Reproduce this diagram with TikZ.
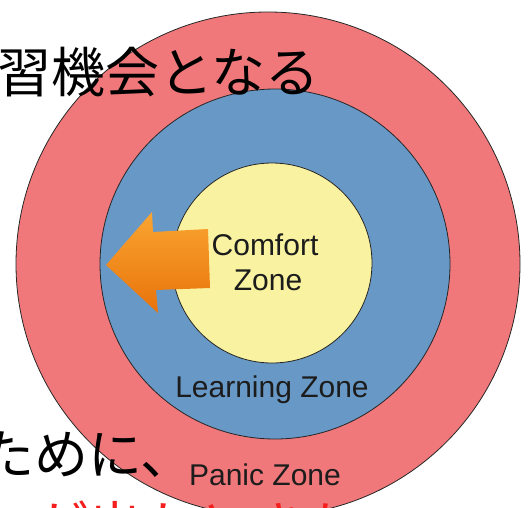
\documentclass[tikz,border=0pt]{standalone}
\usepackage{fontspec}
\setsansfont{Liberation Sans}
\newfontfamily\jp{Noto Sans CJK JP}
\definecolor{panicred}{RGB}{240,120,122}
\definecolor{learnblue}{RGB}{104,152,198}
\definecolor{comfortyel}{RGB}{249,242,160}
\definecolor{arrowlight}{RGB}{250,165,50}
\definecolor{arrowdark}{RGB}{232,115,10}
\definecolor{labeltext}{RGB}{28,28,28}
\definecolor{jpred}{RGB}{245,30,30}
\begin{document}
\begin{tikzpicture}[x=1pt,y=-1pt,
  zone/.style={draw=black!85,line width=0.8pt},
  zonelabel/.style={font=\sffamily\fontsize{30}{30}\selectfont,text=labeltext,inner sep=0pt,anchor=base},
  jptext/.style={font=\jp\fontsize{54}{54}\selectfont,inner sep=0pt,anchor=base west}]
\useasboundingbox (0,0) rectangle (530,507);
\clip (0,0) rectangle (530,507);
\fill[white] (0,0) rectangle (530,507);
% zones
\draw[zone,fill=panicred] (268,264) circle[radius=252];
\draw[zone,fill=learnblue] (275,264) circle[radius=175];
\draw[zone,fill=comfortyel] (272,263) circle[radius=100];
% arrow
\shade[top color=arrowlight,bottom color=arrowdark]
  (106,265) -- (152,212) -- (153,232) -- (208,229) -- (210,288) -- (156,290) -- (158,313) -- cycle;
% zone labels
\node[zonelabel] (comfort) at (265,255) {Comfort};
\node[zonelabel] (comfortzone) at (268,290) {Zone};
\node[zonelabel] (learning) at (272,397) {Learning Zone};
\node[zonelabel] (panic) at (265,485) {Panic Zone};
% Japanese text
\node[jptext] (toptext) at (-57,92) {学習機会となる};
\node[jptext] (midtext) at (-20,474) {ために、};
\node[jptext,text=jpred] (redtext) at (-20,546) {いが出たときも};
\end{tikzpicture}
\end{document}
